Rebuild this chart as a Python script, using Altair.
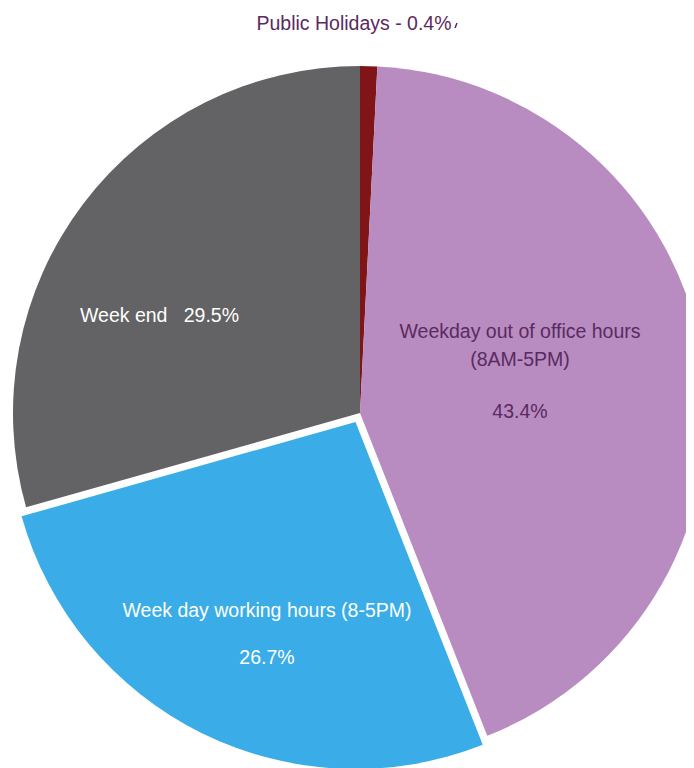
import altair as alt
import pandas as pd

categories = ["Public Holidays", "Weekday out of office hours", "Week day working hours", "Week end"]
slice_values = [0.8, 43.4, 26.7, 29.5]
label_values = ["0.4%", "43.4%", "26.7%", "29.5%"]
order = [0, 1, 2, 3]
colors = ["#801518", "#b88cc0", "#3aace8", "#636365"]

df = pd.DataFrame({"category": categories, "value": slice_values, "order": order})

CX, CY, R = 352, 405, 347
LABEL_PURPLE = "#5a2a60"
FONT = "Liberation Sans"
FS = 19.5

color_scale = alt.Scale(domain=categories, range=colors)
base = alt.Chart(df)

main = base.mark_arc(outerRadius=R, stroke=None).encode(
    theta=alt.Theta("value:Q", stack=True),
    order=alt.Order("order:Q"),
    color=alt.Color("category:N", scale=color_scale, legend=None),
    fillOpacity=alt.condition(alt.datum.category == "Week day working hours", alt.value(0), alt.value(1)),
    x=alt.value(CX), y=alt.value(CY),
)

exploded = base.mark_arc(outerRadius=R, stroke=None, xOffset=-4.5, yOffset=9).encode(
    theta=alt.Theta("value:Q", stack=True),
    order=alt.Order("order:Q"),
    color=alt.Color("category:N", scale=color_scale, legend=None),
    fillOpacity=alt.condition(alt.datum.category == "Week day working hours", alt.value(1), alt.value(0)),
    x=alt.value(CX), y=alt.value(CY),
)

def label(txt, x, y, color, align="center"):
    return alt.Chart(pd.DataFrame({"t": [txt]})).mark_text(
        font=FONT, fontSize=FS, color=color, align=align, baseline="middle"
    ).encode(text="t:N", x=alt.value(x), y=alt.value(y))

NB = "\u00a0"
labels = [
    label(f"{categories[0]} - {label_values[0]}", 346, 16, LABEL_PURPLE),
    label("Weekday out of office hours", 512, 324, LABEL_PURPLE),
    label("(8AM-5PM)", 512, 352, LABEL_PURPLE),
    label(label_values[1], 512, 404, LABEL_PURPLE),
    label(f"Week end{NB}{NB}{NB}{label_values[3]}", 72, 308, "white", align="left"),
    label("Week day working hours (8-5PM)", 259, 603, "white"),
    label(label_values[2], 259, 650, "white"),
]

tick = alt.Chart(pd.DataFrame({"a": [0]})).mark_rule(color=LABEL_PURPLE, strokeWidth=1.5).encode(
    x=alt.value(447), x2=alt.value(449), y=alt.value(20), y2=alt.value(15)
)

chart = alt.layer(main, exploded, *labels, tick).properties(
    width=678, height=760, padding=0, autosize=alt.AutoSizeParams(type="none")
).configure_view(stroke=None)

chart.save("out.html", embed_options={"renderer": "svg", "actions": False})
